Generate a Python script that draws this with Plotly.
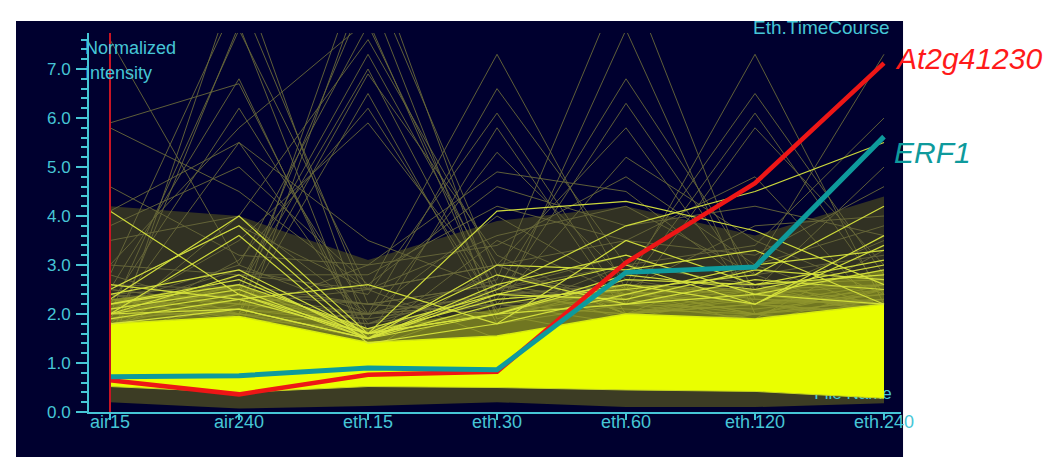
import plotly.graph_objects as go

# ---------------- data ----------------
timepoints = ["air15", "air240", "eth.15", "eth.30", "eth.60", "eth.120", "eth.240"]
xpos = [0, 1, 2, 3, 4, 5, 6]

at2g41230 = [0.65, 0.36, 0.76, 0.82, 3.05, 4.67, 7.12]
erf1 = [0.72, 0.74, 0.90, 0.86, 2.85, 2.96, 5.62]

# dense yellow band of most profiles (lower / upper envelope)
band_yellow_lo = [0.52, 0.40, 0.52, 0.50, 0.45, 0.42, 0.28]
band_yellow_hi = [1.80, 1.95, 1.42, 1.55, 2.00, 1.90, 2.20]
# looser yellow fringe just above the dense band
band_fringe_hi = [2.30, 2.60, 1.70, 2.10, 2.60, 2.50, 2.90]
# dark olive mass below and above the dense yellow band
band_low_lo = [0.20, 0.07, 0.12, 0.20, 0.10, 0.10, 0.18]
band_olive_hi = [4.20, 4.00, 3.10, 3.90, 4.20, 3.60, 4.40]

# individual dim (olive) profiles
olive_profiles = [
    [2.0, 7.8, 2.5, 1.5, 2.0, 2.2, 2.0],
    [1.5, 7.9, 1.2, 3.0, 2.0, 1.8, 2.5],
    [2.5, 6.8, 1.3, 2.2, 1.8, 2.0, 1.6],
    [5.9, 6.7, 1.5, 3.5, 2.4, 2.5, 3.0],
    [1.2, 9.0, 1.6, 2.0, 2.4, 2.2, 1.9],
    [2.8, 8.5, 2.2, 2.6, 1.9, 2.4, 2.6],
    [2.2, 6.2, 2.0, 2.4, 2.1, 2.0, 2.3],
    [1.9, 5.5, 1.8, 2.8, 2.4, 2.6, 2.0],
    [3.0, 5.8, 8.0, 2.0, 1.5, 2.0, 2.2],
    [2.2, 3.0, 7.9, 2.4, 2.5, 1.8, 2.0],
    [1.8, 4.0, 7.6, 3.0, 2.0, 2.2, 2.4],
    [2.6, 2.5, 7.0, 2.0, 3.0, 2.6, 2.2],
    [1.4, 2.0, 6.5, 1.8, 2.2, 2.5, 2.0],
    [2.0, 3.5, 5.9, 2.5, 2.2, 1.9, 3.3],
    [2.4, 2.0, 9.5, 2.2, 2.0, 2.4, 2.1],
    [1.9, 1.6, 9.0, 2.8, 2.3, 2.0, 2.5],
    [2.3, 2.4, 8.6, 1.9, 2.6, 2.2, 2.3],
    [2.0, 2.6, 7.3, 2.6, 2.2, 2.1, 2.4],
    [2.5, 2.2, 6.9, 3.2, 2.0, 2.3, 2.2],
    [1.7, 3.1, 6.2, 2.1, 2.5, 2.0, 2.6],
    [1.6, 2.2, 2.5, 7.3, 2.5, 2.0, 1.8],
    [2.4, 1.8, 2.0, 6.6, 3.0, 2.2, 2.5],
    [1.9, 2.6, 1.5, 5.8, 2.0, 3.0, 2.1],
    [2.8, 2.0, 3.0, 4.9, 4.5, 2.5, 2.0],
    [2.1, 2.9, 2.4, 6.1, 2.2, 2.6, 2.7],
    [2.3, 2.1, 1.9, 5.3, 2.7, 2.3, 2.2],
    [1.5, 2.4, 2.2, 2.0, 7.8, 2.0, 2.3],
    [2.2, 2.0, 1.6, 2.5, 6.8, 2.8, 1.9],
    [1.7, 2.8, 2.5, 3.0, 5.8, 2.2, 2.6],
    [2.0, 2.0, 1.8, 2.2, 5.2, 3.5, 2.4],
    [2.5, 2.2, 2.0, 2.7, 9.0, 2.3, 2.2],
    [2.1, 2.5, 1.7, 2.3, 6.3, 2.5, 2.1],
    [1.8, 2.3, 2.0, 2.4, 2.6, 7.3, 2.2],
    [2.3, 1.9, 1.7, 2.0, 2.8, 6.5, 2.8],
    [2.0, 2.5, 2.2, 2.6, 2.2, 5.8, 3.0],
    [1.6, 2.0, 1.5, 3.0, 3.5, 4.8, 2.0],
    [2.4, 2.2, 1.9, 2.3, 2.5, 6.1, 2.4],
    [2.2, 2.4, 2.0, 2.2, 2.4, 3.0, 7.3],
    [1.9, 2.1, 1.8, 2.5, 3.0, 3.4, 6.0],
    [2.4, 2.6, 2.2, 2.0, 2.6, 2.5, 5.0],
    [7.6, 3.0, 2.0, 2.2, 2.0, 2.2, 2.0],
    [5.8, 4.5, 2.5, 3.0, 2.0, 2.5, 2.6],
    [4.1, 5.5, 3.5, 2.5, 3.2, 2.4, 3.5],
    [3.5, 4.0, 2.0, 4.0, 2.5, 3.8, 4.0],
    [2.5, 3.8, 2.5, 3.6, 4.2, 2.8, 3.2],
    [3.0, 2.8, 2.8, 4.2, 3.5, 3.2, 4.6],
    [4.6, 3.2, 3.0, 3.4, 4.8, 3.0, 3.8],
    [3.8, 5.0, 2.6, 4.6, 3.8, 4.2, 3.6],
]

# individual brighter yellow profiles
yellow_profiles = [
    [2.0, 2.4, 1.6, 4.1, 4.3, 3.7, 2.6],
    [1.8, 2.1, 1.5, 2.5, 3.8, 4.5, 5.5],
    [2.3, 4.0, 1.6, 2.0, 2.8, 2.5, 3.0],
    [2.5, 3.8, 1.5, 2.2, 2.6, 2.2, 3.4],
    [2.0, 3.6, 1.4, 1.8, 3.5, 2.6, 2.8],
    [1.9, 2.3, 2.6, 1.8, 2.4, 3.0, 3.3],
    [2.6, 2.3, 1.6, 2.8, 2.2, 2.7, 2.5],
    [2.2, 2.6, 1.7, 2.4, 3.0, 2.2, 3.6],
    [4.1, 2.4, 1.5, 2.0, 2.2, 2.4, 2.2],
    [2.0, 2.1, 1.5, 3.0, 2.9, 3.3, 2.2],
    [2.4, 2.9, 1.6, 2.3, 2.5, 2.8, 4.2],
    [2.1, 2.5, 1.5, 2.6, 3.2, 2.4, 2.9],
    [2.2, 2.7, 1.6, 2.0, 2.7, 2.6, 3.1],
    [2.0, 2.8, 1.5, 2.4, 2.3, 2.9, 2.7],
]

# ---------------- figure ----------------
CYAN = "#46c6d6"
NAVY = "#00002f"
FONT = "Liberation Sans, Arial, sans-serif"

fig = go.Figure()


def band(lo, hi, color):
    fig.add_trace(go.Scatter(x=xpos, y=lo, mode="lines", line=dict(width=0),
                             hoverinfo="skip", showlegend=False))
    fig.add_trace(go.Scatter(x=xpos, y=hi, mode="lines", line=dict(width=0),
                             fill="tonexty", fillcolor=color,
                             hoverinfo="skip", showlegend=False))


# olive mass above dense band
band(band_yellow_hi, band_olive_hi, "rgba(56,56,34,0.88)")

# dim olive profiles
for p in olive_profiles:
    fig.add_trace(go.Scatter(x=xpos, y=p, mode="lines",
                             line=dict(color="rgba(104,104,58,0.9)", width=1),
                             hoverinfo="skip", showlegend=False))

# dark olive mass below dense band
band(band_low_lo, band_yellow_lo, "rgba(60,60,36,1)")

# "File Name" label partly hidden behind the profiles
fig.add_trace(go.Scatter(x=[5.76], y=[0.36], mode="text", text=["File Name"],
                         textfont=dict(color=CYAN, size=17, family=FONT),
                         hoverinfo="skip", showlegend=False))

# loose yellow fringe
band(band_yellow_hi, band_fringe_hi, "rgba(190,205,30,0.45)")

# dense yellow band
fig.add_trace(go.Scatter(x=xpos, y=band_yellow_lo, mode="lines",
                         line=dict(width=1, color="#c8d820"),
                         hoverinfo="skip", showlegend=False))
fig.add_trace(go.Scatter(x=xpos, y=band_yellow_hi, mode="lines",
                         line=dict(width=1.5, color="#d8ec10"),
                         fill="tonexty", fillcolor="#eaff00",
                         hoverinfo="skip", showlegend=False))

# brighter yellow profiles
for p in yellow_profiles:
    fig.add_trace(go.Scatter(x=xpos, y=p, mode="lines",
                             line=dict(color="rgba(215,228,60,0.95)", width=1.2),
                             hoverinfo="skip", showlegend=False))

# highlighted genes
fig.add_trace(go.Scatter(x=xpos, y=at2g41230, mode="lines", name="At2g41230",
                         line=dict(color="#ee1616", width=4.5), showlegend=False))
fig.add_trace(go.Scatter(x=xpos, y=erf1, mode="lines", name="ERF1",
                         line=dict(color="#0e9a9c", width=5), showlegend=False))

# dark panel background
fig.add_shape(type="rect", xref="paper", yref="paper",
              x0=-0.0899, x1=1.0025, y0=-0.1398, y1=1.0317,
              fillcolor=NAVY, line=dict(width=0), layer="below")
# red cursor line at air15
fig.add_shape(type="line", xref="x", yref="paper", x0=0, x1=0, y0=0, y1=1,
              line=dict(color="#c81424", width=2), layer="above")

fig.update_layout(
    width=1052, height=457,
    margin=dict(l=81, r=159, t=25, b=53),
    paper_bgcolor="white",
    plot_bgcolor="rgba(0,0,0,0)",
    showlegend=False,
    font=dict(family=FONT, color=CYAN),
    xaxis=dict(
        range=[-0.1628, 6.1318],
        tickvals=xpos, ticktext=timepoints,
        showgrid=False, zeroline=False,
        showline=True, linecolor=CYAN, linewidth=2,
        ticks="outside", ticklen=6, tickcolor=CYAN, tickwidth=1.5,
        ticklabelstandoff=-14,
        tickfont=dict(size=18, color=CYAN, family=FONT),
    ),
    yaxis=dict(
        range=[0, 7.735],
        tickvals=[0, 1, 2, 3, 4, 5, 6, 7],
        tickformat=".1f",
        showgrid=False, zeroline=False,
        showline=True, linecolor=CYAN, linewidth=2,
        ticks="outside", ticklen=11, tickcolor=CYAN, tickwidth=1.5,
        ticklabelstandoff=2,
        tickfont=dict(size=17, color=CYAN, family=FONT),
        minor=dict(dtick=0.2, tick0=0, ticks="outside", ticklen=6,
                   tickcolor=CYAN, tickwidth=1.5, showgrid=False),
    ),
    annotations=[
        dict(xref="paper", yref="paper", x=(75 - 81) / 812, y=(404 - 40) / 379,
             xanchor="left", yanchor="middle", showarrow=False,
             text="Normalized", font=dict(size=18, color=CYAN, family=FONT)),
        dict(xref="paper", yref="paper", x=(75 - 81) / 812, y=(404 - 65) / 379,
             xanchor="left", yanchor="middle", showarrow=False,
             text="Intensity", font=dict(size=18, color=CYAN, family=FONT)),
        dict(xref="paper", yref="paper", x=(884 - 81) / 812, y=(404 - 20) / 379,
             xanchor="right", yanchor="middle", showarrow=False,
             text="Eth.TimeCourse", font=dict(size=19, color=CYAN, family=FONT)),
        dict(xref="paper", yref="paper", x=(885 - 81) / 812, y=(404 - 50) / 379,
             xanchor="left", yanchor="middle", showarrow=False,
             text="<i>At2g41230</i>", font=dict(size=30, color="#ff1a1a", family=FONT)),
        dict(xref="paper", yref="paper", x=(884 - 81) / 812, y=(404 - 144) / 379,
             xanchor="left", yanchor="middle", showarrow=False,
             text="<i>ERF1</i>", font=dict(size=30, color="#0e9a9c", family=FONT)),
    ],
)

fig.write_html("out.html")
